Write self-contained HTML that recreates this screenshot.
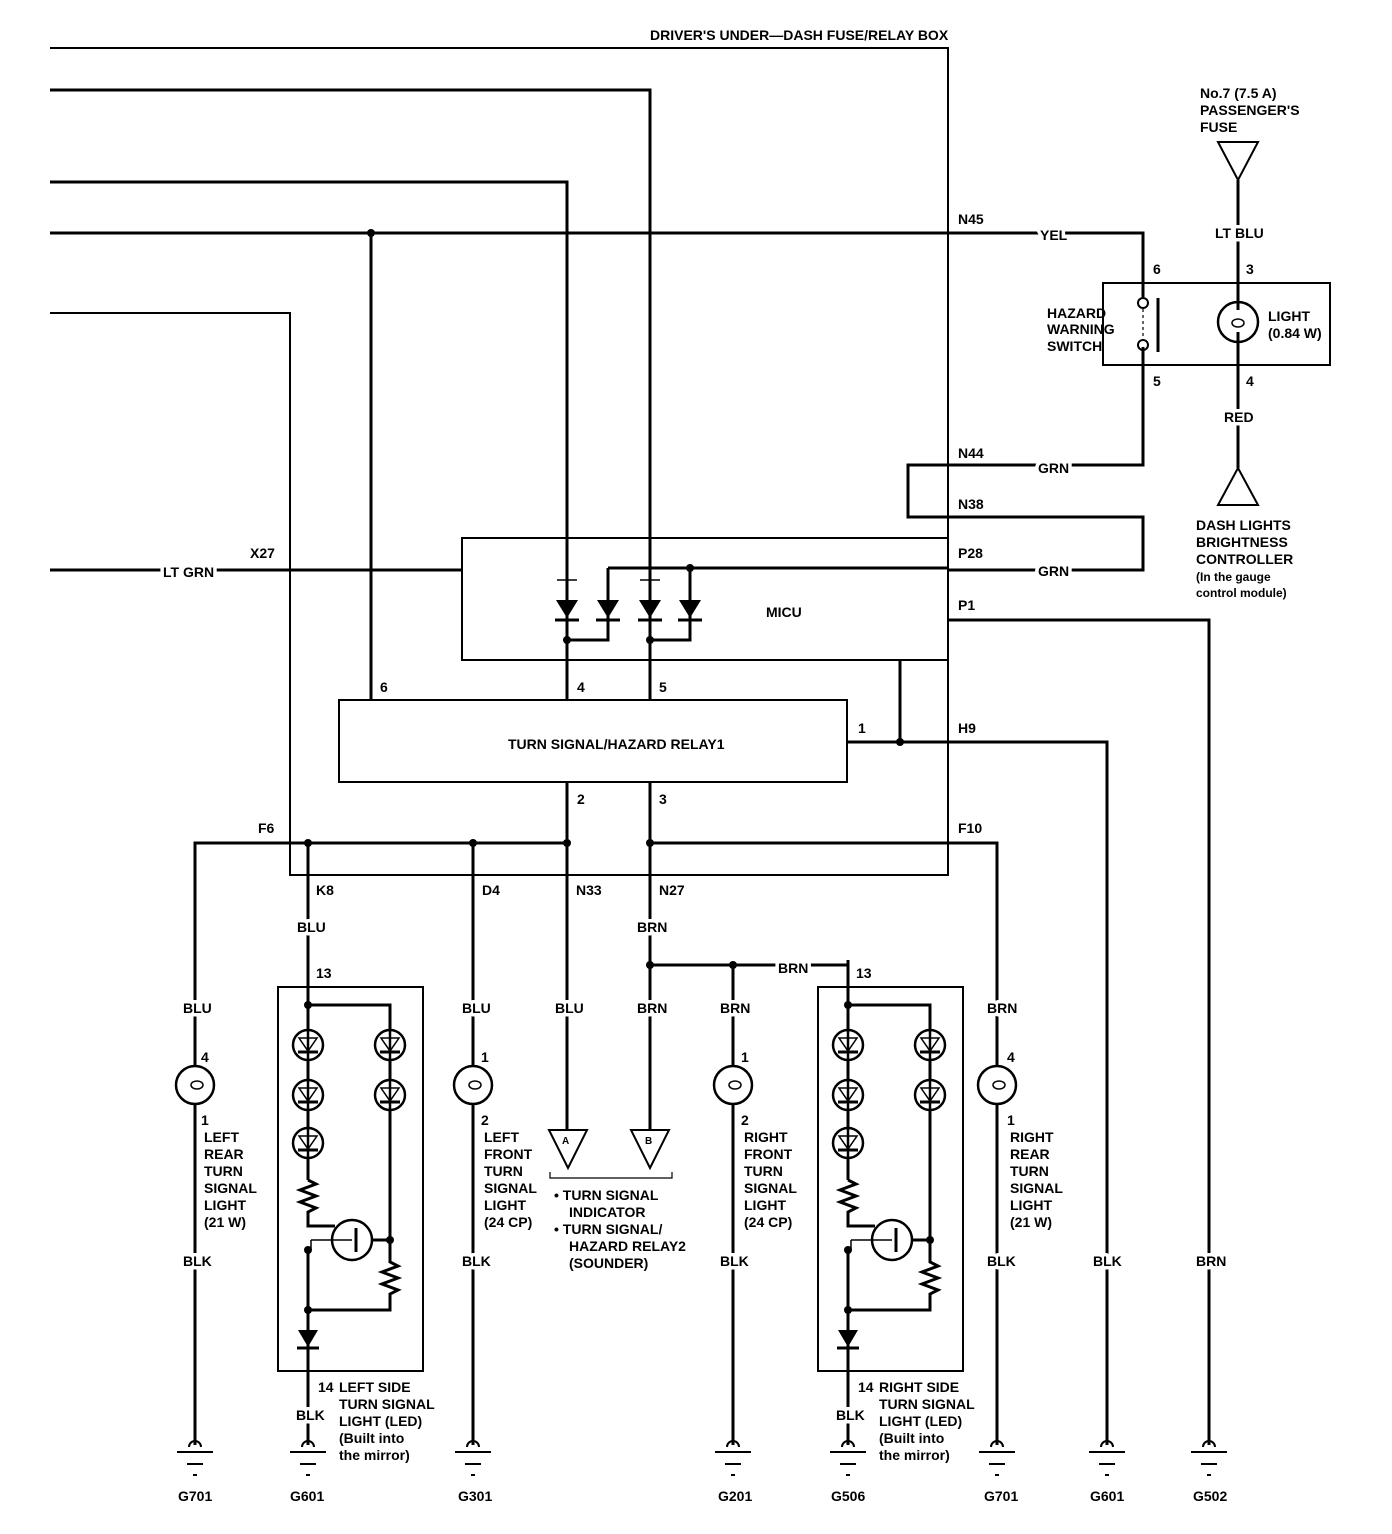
<!DOCTYPE html>
<html><head><meta charset="utf-8"><style>
html,body{margin:0;padding:0;background:#fff}
svg{display:block}
text{font-family:"Liberation Sans Narrow","Liberation Sans",sans-serif;font-weight:bold;font-size:14px;fill:#000}
text.w{paint-order:stroke;stroke:#fff;stroke-width:7px;stroke-linejoin:round}
</style></head><body>
<svg width="1392" height="1534" viewBox="0 0 1392 1534" xmlns="http://www.w3.org/2000/svg">
<defs>
<g id="gnd"><path d="M-6 1447 a6 6 0 0 1 12 0" fill="none" stroke="#000" stroke-width="2"/><line x1="-18" y1="1452" x2="18" y2="1452" stroke="#000" stroke-width="2"/><line x1="-8" y1="1464" x2="8" y2="1464" stroke="#000" stroke-width="2"/><line x1="-2" y1="1475" x2="2" y2="1475" stroke="#000" stroke-width="2"/></g>
<g id="bulb"><circle cx="0" cy="0" r="19" fill="#fff" stroke="#000" stroke-width="2.5"/><ellipse cx="2" cy="0" rx="6" ry="4" fill="none" stroke="#000" stroke-width="1.5"/></g>
<g id="led"><circle cx="0" cy="0" r="15" fill="#fff" stroke="#000" stroke-width="2.5"/><path d="M-9 -7 L9 -7 L0 6 Z" fill="none" stroke="#000" stroke-width="1.5"/><line x1="-10" y1="7" x2="10" y2="7" stroke="#000" stroke-width="3"/><line x1="0" y1="-15" x2="0" y2="15" stroke="#000" stroke-width="2.5"/></g>
<g id="module">
<rect x="278" y="987" width="145" height="384" fill="none" stroke="#000" stroke-width="2"/>
<g fill="none" stroke="#000" stroke-width="3">
<path d="M308 960 V1180"/><path d="M308 1005 H390 V1240"/>
<path d="M308 1180 l8 4 l-16 6 l16 6 l-16 6 l16 6 l-8 4 V1226 H335"/>
<path d="M372 1240 H390"/><path d="M390 1240 V1262 l8 4 l-16 6 l16 6 l-16 6 l16 6 l-8 4 V1310 H308"/>
<path d="M308 1250 V1445"/>
</g>
<use href="#led" x="308" y="1045"/><use href="#led" x="308" y="1095"/><use href="#led" x="308" y="1143"/>
<use href="#led" x="390" y="1045"/><use href="#led" x="390" y="1095"/>
<circle cx="352" cy="1240" r="20" fill="#fff" stroke="#000" stroke-width="2.5"/>
<line x1="311" y1="1240" x2="352" y2="1240" stroke="#000" stroke-width="1.5"/><line x1="311" y1="1240" x2="311" y2="1250" stroke="#000" stroke-width="1.5"/>
<line x1="356" y1="1228" x2="356" y2="1252" stroke="#000" stroke-width="3"/>
<circle cx="308" cy="1005" r="4"/><circle cx="390" cy="1240" r="4"/><circle cx="308" cy="1250" r="4"/><circle cx="308" cy="1310" r="4"/>
<path d="M298 1330 H318 L308 1347 Z"/><line x1="297" y1="1348" x2="319" y2="1348" stroke="#000" stroke-width="3"/>
<use href="#gnd" x="308"/>
</g>
</defs>

<g fill="none" stroke="#000" stroke-width="3">
<path d="M50 48 H948 V875 H290 V313 H50" stroke-width="2"/>
<path d="M50 90 H650 V540"/>
<path d="M50 182 H567 V540"/>
<path d="M50 233 H1143 V297"/>
<path d="M371 233 V700"/>
<path d="M50 570 H462"/>
<rect x="462" y="538" width="486" height="122" stroke-width="2"/>
<rect x="339" y="700" width="508" height="82" stroke-width="2"/>
<path d="M567 540 V700"/><path d="M650 540 V700"/>
<path d="M608 568 H948"/><path d="M608 568 V640 H567"/><path d="M690 568 V640 H650"/>
<path d="M948 570 H1143 V517 H908 V465 H1143 V347"/>
<path d="M948 620 H1209 V1445"/>
<path d="M900 660 V742"/><path d="M847 742 H1107 V1445"/>
<path d="M567 782 V1130"/><path d="M650 782 V1130"/>
<path d="M195 1445 V843 H567"/><path d="M650 843 H997 V1445"/>
<path d="M473 843 V1445"/><path d="M308 843 V960"/>
<path d="M650 965 H848 V1005"/><path d="M733 965 V1445"/>
<rect x="1103" y="283" width="227" height="82" stroke-width="2"/>
<path d="M1238 180 V310"/><path d="M1238 332 V468"/>
</g>
<g fill="none" stroke="#000" stroke-width="2">
<path d="M1218 142 H1258 L1238 180 Z"/>
<path d="M1218 505 H1258 L1238 468 Z"/>
<path d="M549 1130 H587 L568 1168 Z"/>
<path d="M631 1130 H669 L650 1168 Z"/>
<path d="M550 1172 V1178 H672 V1172" stroke-width="1.2"/>
<circle cx="1143" cy="303" r="5"/><circle cx="1143" cy="345" r="5"/>
<line x1="1143" y1="309" x2="1143" y2="340" stroke-dasharray="3 3" stroke-width="1.2"/>
<line x1="1158" y1="298" x2="1158" y2="352" stroke-width="3"/>
<circle cx="1238" cy="322" r="20" stroke-width="2.5"/>
<ellipse cx="1238" cy="323" rx="6" ry="4" stroke-width="1.5"/>
</g>
<g>
<path d="M556 600 H578 L567 618 Z"/><path d="M597 600 H619 L608 618 Z"/><path d="M639 600 H661 L650 618 Z"/><path d="M679 600 H701 L690 618 Z"/>
<g stroke="#000" stroke-width="3"><line x1="555" y1="620" x2="579" y2="620"/><line x1="596" y1="620" x2="620" y2="620"/><line x1="638" y1="620" x2="662" y2="620"/><line x1="678" y1="620" x2="702" y2="620"/></g>
<g stroke="#000" stroke-width="1.5"><line x1="557" y1="580" x2="577" y2="580"/><line x1="640" y1="580" x2="660" y2="580"/></g>
<circle cx="567" cy="640" r="4"/><circle cx="650" cy="640" r="4"/><circle cx="690" cy="568" r="4"/>
<circle cx="371" cy="233" r="4"/><circle cx="900" cy="742" r="4"/>
<circle cx="308" cy="843" r="4"/><circle cx="473" cy="843" r="4"/><circle cx="567" cy="843" r="4"/><circle cx="650" cy="843" r="4"/>
<circle cx="650" cy="965" r="4"/><circle cx="733" cy="965" r="4"/>
</g>
<use href="#bulb" x="195" y="1085"/><use href="#bulb" x="473" y="1085"/><use href="#bulb" x="733" y="1085"/><use href="#bulb" x="997" y="1085"/>
<use href="#module"/>
<use href="#module" transform="translate(540,0)"/>
<use href="#gnd" x="195"/><use href="#gnd" x="473"/><use href="#gnd" x="733"/><use href="#gnd" x="997"/><use href="#gnd" x="1107"/><use href="#gnd" x="1209"/>

<text x="650" y="40">DRIVER'S UNDER—DASH FUSE/RELAY BOX</text>
<text x="1200" y="98">No.7 (7.5 A)</text><text x="1200" y="115">PASSENGER'S</text><text x="1200" y="132">FUSE</text>
<text x="958" y="224">N45</text><text class="w" x="1040" y="240">YEL</text>
<text class="w" x="1215" y="238">LT BLU</text>
<text x="1153" y="274">6</text><text x="1246" y="274">3</text>
<text x="1047" y="318">HAZARD</text><text x="1047" y="334">WARNING</text><text x="1047" y="351">SWITCH</text>
<text x="1268" y="321">LIGHT</text><text x="1268" y="338">(0.84 W)</text>
<text x="1153" y="386">5</text><text x="1246" y="386">4</text>
<text class="w" x="1224" y="422">RED</text>
<text x="958" y="458">N44</text><text class="w" x="1038" y="473">GRN</text>
<text x="958" y="509">N38</text>
<text x="1196" y="530">DASH LIGHTS</text><text x="1196" y="547">BRIGHTNESS</text><text x="1196" y="564">CONTROLLER</text>
<text x="1196" y="581" style="font-size:12px">(In the gauge</text><text x="1196" y="597" style="font-size:12px">control module)</text>
<text x="958" y="558">P28</text><text class="w" x="1038" y="576">GRN</text>
<text x="958" y="610">P1</text>
<text x="250" y="558">X27</text><text class="w" x="163" y="577">LT GRN</text>
<text x="766" y="617">MICU</text>
<text x="380" y="692">6</text><text x="577" y="692">4</text><text x="659" y="692">5</text>
<text x="508" y="749">TURN SIGNAL/HAZARD RELAY1</text>
<text x="858" y="733">1</text><text x="958" y="733">H9</text>
<text x="577" y="804">2</text><text x="659" y="804">3</text>
<text x="258" y="833">F6</text><text x="958" y="833">F10</text>
<text x="316" y="895">K8</text><text x="482" y="895">D4</text><text x="576" y="895">N33</text><text x="659" y="895">N27</text>
<text class="w" x="297" y="932">BLU</text><text class="w" x="637" y="932">BRN</text>
<text class="w" x="778" y="973">BRN</text>
<text x="316" y="978">13</text><text x="856" y="978">13</text>
<text class="w" x="183" y="1013">BLU</text><text class="w" x="462" y="1013">BLU</text><text class="w" x="555" y="1013">BLU</text><text class="w" x="637" y="1013">BRN</text><text class="w" x="720" y="1013">BRN</text><text class="w" x="987" y="1013">BRN</text>
<text x="201" y="1062">4</text><text x="481" y="1062">1</text><text x="741" y="1062">1</text><text x="1007" y="1062">4</text>
<text x="562" y="1144" style="font-size:10px">A</text><text x="645" y="1144" style="font-size:10px">B</text>
<text x="201" y="1125">1</text><text x="204" y="1142">LEFT</text><text x="204" y="1159">REAR</text><text x="204" y="1176">TURN</text><text x="204" y="1193">SIGNAL</text><text x="204" y="1210">LIGHT</text><text x="204" y="1227">(21 W)</text>
<text x="481" y="1125">2</text><text x="484" y="1142">LEFT</text><text x="484" y="1159">FRONT</text><text x="484" y="1176">TURN</text><text x="484" y="1193">SIGNAL</text><text x="484" y="1210">LIGHT</text><text x="484" y="1227">(24 CP)</text>
<text x="741" y="1125">2</text><text x="744" y="1142">RIGHT</text><text x="744" y="1159">FRONT</text><text x="744" y="1176">TURN</text><text x="744" y="1193">SIGNAL</text><text x="744" y="1210">LIGHT</text><text x="744" y="1227">(24 CP)</text>
<text x="1007" y="1125">1</text><text x="1010" y="1142">RIGHT</text><text x="1010" y="1159">REAR</text><text x="1010" y="1176">TURN</text><text x="1010" y="1193">SIGNAL</text><text x="1010" y="1210">LIGHT</text><text x="1010" y="1227">(21 W)</text>
<text x="554" y="1200">•  TURN SIGNAL</text><text x="569" y="1217">INDICATOR</text>
<text x="554" y="1234">•  TURN SIGNAL/</text><text x="569" y="1251">HAZARD RELAY2</text><text x="569" y="1268">(SOUNDER)</text>
<text class="w" x="183" y="1266">BLK</text><text class="w" x="462" y="1266">BLK</text><text class="w" x="720" y="1266">BLK</text><text class="w" x="987" y="1266">BLK</text><text class="w" x="1093" y="1266">BLK</text><text class="w" x="1196" y="1266">BRN</text>
<text x="318" y="1392">14</text><text x="339" y="1392">LEFT SIDE</text><text x="339" y="1409">TURN SIGNAL</text><text x="339" y="1426">LIGHT (LED)</text><text x="339" y="1443">(Built into</text><text x="339" y="1460">the mirror)</text>
<text x="858" y="1392">14</text><text x="879" y="1392">RIGHT SIDE</text><text x="879" y="1409">TURN SIGNAL</text><text x="879" y="1426">LIGHT (LED)</text><text x="879" y="1443">(Built into</text><text x="879" y="1460">the mirror)</text>
<text class="w" x="296" y="1420">BLK</text><text class="w" x="836" y="1420">BLK</text>
<text x="178" y="1501">G701</text><text x="290" y="1501">G601</text><text x="458" y="1501">G301</text><text x="718" y="1501">G201</text><text x="831" y="1501">G506</text><text x="984" y="1501">G701</text><text x="1090" y="1501">G601</text><text x="1193" y="1501">G502</text>
</svg>
</body></html>
